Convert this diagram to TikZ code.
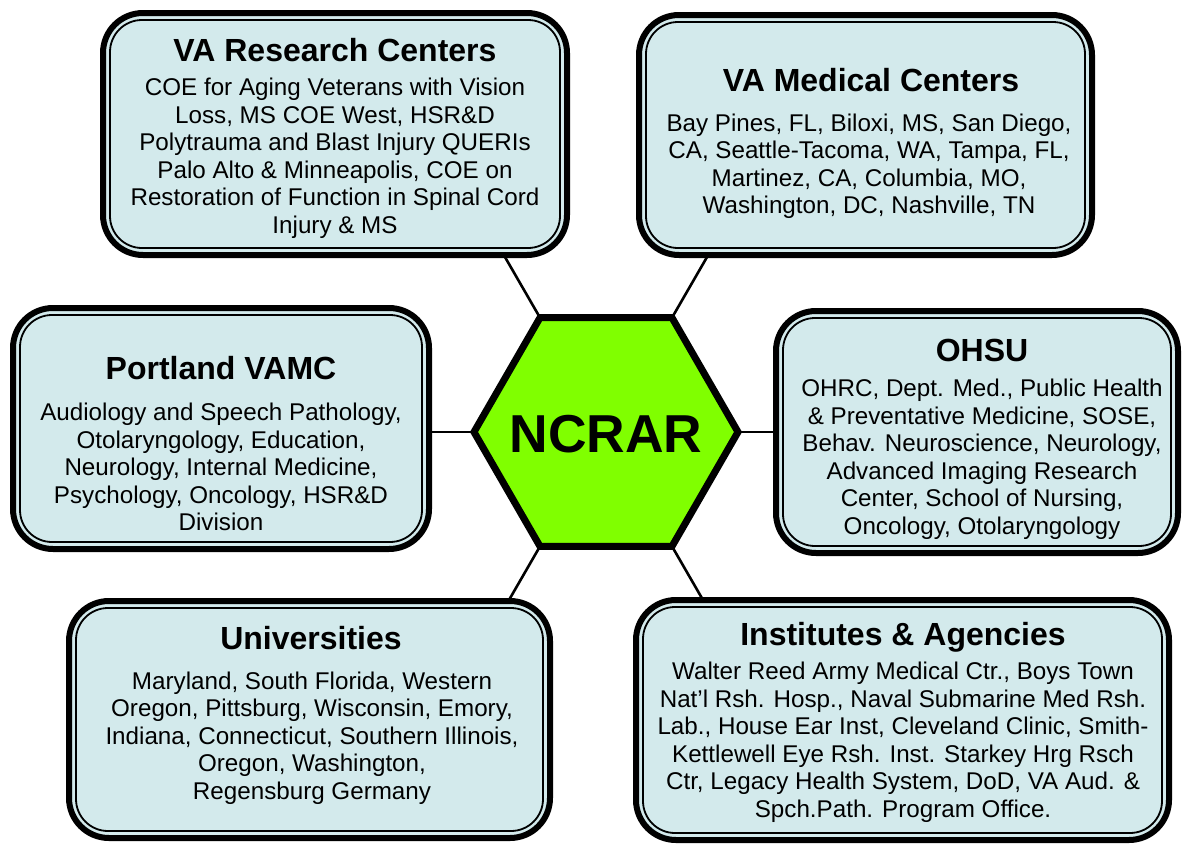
\documentclass[tikz,border=0pt]{standalone}
\usepackage{fontspec}
\setmainfont{Liberation Sans}
\usetikzlibrary{shapes.geometric,calc,backgrounds}
\definecolor{boxfill}{HTML}{D3EAEC}
\definecolor{hubgreen}{HTML}{80FF00}
\tikzset{
  cbox/.style={draw=black, line width=6pt, rounded corners=40pt, fill=boxfill,
    inner sep=0pt, outer sep=0pt},
  innerline/.style={draw=black, line width=1.8pt, rounded corners=32pt},
  boxtitle/.style={font=\fontsize{32}{38}\selectfont\bfseries, inner sep=0pt},
  boxbody/.style={font=\fontsize{24.2}{27.5}\selectfont, align=center, inner sep=0pt},
  hubshape/.style={regular polygon, regular polygon sides=6, minimum size=264pt,
    draw=black, line width=7pt, fill=hubgreen, inner sep=0pt, outer sep=0pt},
  hubtext/.style={font=\fontsize{53.4}{60}\selectfont\bfseries, inner sep=0pt},
  spoke/.style={draw=black, line width=2.6pt}
}
% rounded box with a thin inner frame: name, centre, width, height
\newcommand\ncbox[4]{%
  \node[cbox, minimum width=#3, minimum height=#4] (#1) at #2 {};
  \draw[innerline] ([xshift=7pt,yshift=-7pt]#1.north west) rectangle ([xshift=-7pt,yshift=7pt]#1.south east);
}
\begin{document}
\begin{tikzpicture}[x=1pt,y=-1pt]
\useasboundingbox (0,0) rectangle (1184,846);

% central hexagon
\node[hubshape] (hub) at (606,432) {};
\node[hubtext] (hubT) at ([yshift=-2pt]hub.center) {NCRAR};

% spokes, drawn behind everything
\coordinate (s60)  at ($(hub.center)!1.6!(hub.60)$);
\coordinate (s120) at ($(hub.center)!1.6!(hub.120)$);
\coordinate (s180) at ($(hub.center)!1.6!(hub.180)$);
\coordinate (s240) at ($(hub.center)!1.6!(hub.240)$);
\coordinate (s300) at ($(hub.center)!1.6!(hub.300)$);
\coordinate (s0)   at ($(hub.center)!1.6!(hub.0)$);
\begin{pgfonlayer}{background}
  \draw[spoke] (hub.120) -- (s120);
  \draw[spoke] (hub.60) -- (s60);
  \draw[spoke] (hub.180) -- (s180);
  \draw[spoke] (hub.0) -- (s0);
  \draw[spoke] (hub.240) -- (s240);
  \draw[spoke] (hub.300) -- (s300);
\end{pgfonlayer}

% surrounding boxes
\ncbox{vares}{(335,134)}{464pt}{242pt}
\ncbox{vamed}{(865.5,135)}{453pt}{240pt}
\ncbox{portland}{(221,428.5)}{416pt}{241pt}
\ncbox{ohsu}{(977,432)}{402pt}{242pt}
\ncbox{univ}{(309.5,719.5)}{481pt}{237pt}
\ncbox{inst}{(902.5,720)}{533pt}{240pt}

% VA Research Centers
\node[boxtitle] (varesT) at (335,50) {VA Research Centers};
\node[boxbody] (varesB) at (335,158) {COE for Aging Veterans with Vision\\
Loss, MS COE West, HSR\&D\\
Polytrauma and Blast Injury QUERIs\\
Palo Alto \& Minneapolis, COE on\\
Restoration of Function in Spinal Cord\\
Injury \& MS};

% VA Medical Centers
\node[boxtitle] (vamedT) at (871,80) {VA Medical Centers};
\node[boxbody] (vamedB) at (869,166) {Bay Pines, FL, Biloxi, MS, San Diego,\\
CA, Seattle-Tacoma, WA, Tampa, FL,\\
Martinez, CA, Columbia, MO,\\
Washington, DC, Nashville, TN};

% Portland VAMC
\node[boxtitle] (portlandT) at (221,368) {Portland VAMC};
\node[boxbody] (portlandB) at (221,467) {Audiology and Speech Pathology,\\
Otolaryngology, Education,\\
Neurology, Internal Medicine,\\
Psychology, Oncology, HSR\&D\\
Division};

% OHSU
\node[boxtitle] (ohsuT) at (982,350) {OHSU};
\node[boxbody] (ohsuB) at (982,459) {OHRC, Dept. Med., Public Health\\
\& Preventative Medicine, SOSE,\\
Behav. Neuroscience, Neurology,\\
Advanced Imaging Research\\
Center, School of Nursing,\\
Oncology, Otolaryngology};

% Universities
\node[boxtitle] (univT) at (311,638) {Universities};
\node[boxbody] (univB) at (312,738) {Maryland, South Florida, Western\\
Oregon, Pittsburg, Wisconsin, Emory,\\
Indiana, Connecticut, Southern Illinois,\\
Oregon, Washington,\\
Regensburg Germany};

% Institutes & Agencies
\node[boxtitle] (instT) at (903,637) {Institutes \& Agencies};
\node[boxbody] (instB) at (903,742) {Walter Reed Army Medical Ctr., Boys Town\\
Nat’l Rsh. Hosp., Naval Submarine Med Rsh.\\
Lab., House Ear Inst, Cleveland Clinic, Smith-\\
Kettlewell Eye Rsh. Inst. Starkey Hrg Rsch\\
Ctr, Legacy Health System, DoD, VA Aud. \&\\
Spch.Path. Program Office.};
\end{tikzpicture}
\end{document}
